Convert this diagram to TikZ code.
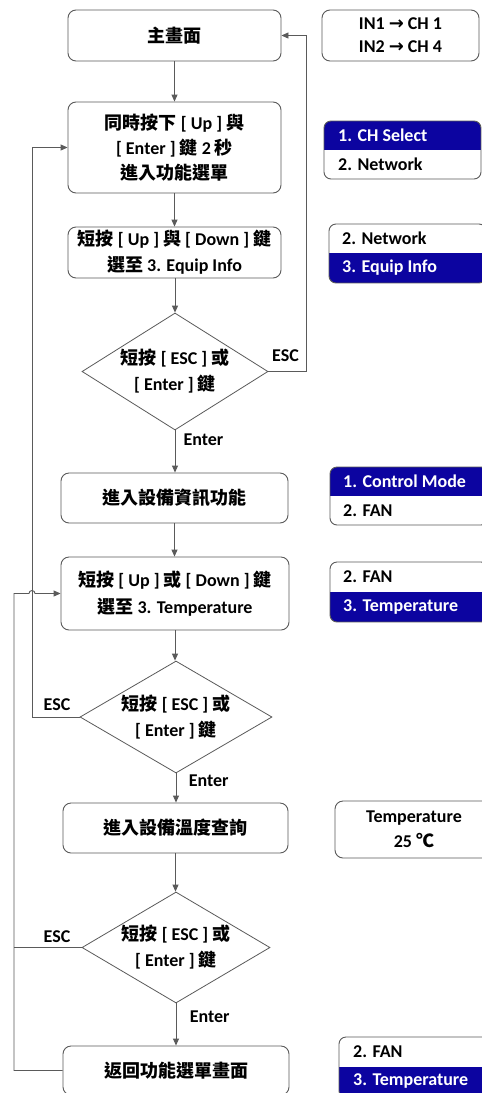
\documentclass[tikz,border=0pt]{standalone}
\usepackage{fontspec}
\setmainfont{Carlito}[UprightFont={* Bold}, BoldFont={* Bold}]
\newfontfamily\cjk{Noto Sans CJK TC}
\newfontfamily\symf{DejaVu Sans}[UprightFont={* Bold}, BoldFont={* Bold}]
\usetikzlibrary{shapes.geometric,arrows.meta}
\definecolor{menublue}{RGB}{12,4,160}
\definecolor{linegray}{RGB}{90,90,90}
\newcommand\zh[1]{{\cjk #1}}
\begin{document}
\begin{tikzpicture}[x=1pt,y=-1pt,
  font=\fontsize{18}{26}\selectfont\bfseries,
  box/.style={draw=linegray, line width=0.9pt, rounded corners=8pt, align=center, inner sep=0pt},
  dia/.style={draw=linegray, line width=0.8pt, diamond, inner sep=0pt},
  dtext/.style={align=center, inner sep=0pt},
  conn/.style={draw=linegray, line width=0.9pt},
  arr/.style={conn, -{Triangle[length=7pt,width=6pt]}},
  lbl/.style={inner sep=0pt},
  mtext/.style={anchor=west, inner sep=0pt},
  mframe/.style={draw=linegray, line width=0.9pt, rounded corners=7pt},
]
\path[fill=white, use as bounding box] (0,0) rectangle (482,1093);

% helper coordinates for loop lines
\coordinate (rx) at (306,0);
\coordinate (lx1) at (32,0);
\coordinate (lx2) at (14,0);

% main column
\node[box, minimum width=213pt, minimum height=51pt] (b1) at (174.5,35.5) {\zh{主畫面}};
\node[box, minimum width=213pt, minimum height=91pt, font=\fontsize{18}{25}\selectfont\bfseries] (b2) at (174.5,147.5)
  {\zh{同時按下} [ Up ] \zh{與}\\ {}[ Enter ] \zh{鍵} 2 \zh{秒}\\ \zh{進入功能選單}};
\node[box, minimum width=213pt, minimum height=51pt] (b3) at (174.5,252.5)
  {\zh{短按} [ Up ] \zh{與} [ Down ] \zh{鍵}\\ \zh{選至} 3. Equip Info};
\node[dia, minimum width=186pt, minimum height=117pt] (d1) at (175,371.5) {};
\node[dtext] (d1t) at (d1) {\zh{短按} [ ESC ] \zh{或}\\ {}[ Enter ] \zh{鍵}};
\node[box, minimum width=227pt, minimum height=50pt] (b4) at (174.5,498) {\zh{進入設備資訊功能}};
\node[box, minimum width=228pt, minimum height=73pt, font=\fontsize{18}{27}\selectfont\bfseries] (b5) at (175,593.5)
  {\zh{短按} [ Up ] \zh{或} [ Down ] \zh{鍵}\\ \zh{選至} 3. Temperature};
\node[dia, minimum width=192pt, minimum height=112pt] (d2) at (176,717) {};
\node[dtext] (d2t) at (d2) {\zh{短按} [ ESC ] \zh{或}\\ {}[ Enter ] \zh{鍵}};
\node[box, minimum width=225pt, minimum height=50pt] (b6) at (175.5,828) {\zh{進入設備溫度查詢}};
\node[dia, minimum width=188pt, minimum height=111pt] (d3) at (176,947.5) {};
\node[dtext] (d3t) at (d3) {\zh{短按} [ ESC ] \zh{或}\\ {}[ Enter ] \zh{鍵}};
\node[box, minimum width=226pt, minimum height=49pt] (b7) at (176,1070.5) {\zh{返回功能選單畫面}};

% vertical arrows
\draw[arr] (b1.south) -- (b1.south |- b2.north);
\draw[arr] (b2.south) -- (b2.south |- b3.north);
\draw[arr] (b3.south) -- (b3.south -| d1.north) -- (d1.north);
\draw[arr] (d1.south) -- (d1.south |- b4.north);
\draw[arr] (b4.south) -- (b4.south |- b5.north);
\draw[arr] (b5.south) -- (b5.south |- d2.north);
\draw[arr] (d2.south) -- (d2.south |- b6.north);
\draw[arr] (b6.south) -- (b6.south |- d3.north);
\draw[arr] (d3.south) -- (d3.south |- b7.north);

% loops
\draw[arr] (d1.east) -- (d1.east -| rx) -- (rx |- b1.east) -- (b1.east);
\draw[arr] (d2.west) -- (d2.west -| lx1) -- (lx1 |- b2.west) -- (b2.west);
\coordinate (hopL) at (29,593.5);
\draw[arr] (b7.west) -- (b7.west -| lx2) -- (lx2 |- b5.west) -- (hopL)
  arc[start angle=180, end angle=0, radius=3pt] -- (b5.west);
\draw[conn] (d3.west) -- (d3.west -| lx2);

% branch labels
\node[lbl] (e1) at (285.5,356) {ESC};
\node[lbl] (n1) at (203.5,440) {Enter};
\node[lbl] (e2) at (57,705) {ESC};
\node[lbl] (n2) at (208.7,781) {Enter};
\node[lbl] (e3) at (57,937) {ESC};
\node[lbl] (n3) at (209.7,1017) {Enter};

% right-hand screens
\node[box, minimum width=157pt, minimum height=51pt, font=\fontsize{18}{23}\selectfont\bfseries] (r1) at (400.5,35.5)
  {IN1 {\symf →} CH 1\\ IN2 {\symf →} CH 4};
\node[box, minimum width=158pt, minimum height=57pt, font=\fontsize{18}{25}\selectfont\bfseries] (r2) at (414,829.5)
  {Temperature\\ 25 \zh{℃}};

% menu 1
\begin{scope}
  \clip[rounded corners=7pt] (324,121) rectangle (481,179);
  \fill[menublue] (324,121) rectangle (481,150);
\end{scope}
\draw[mframe] (324,121) rectangle (481,179);
\node[mtext, text=white] (m1a) at (338,135.5) {1. CH Select};
\node[mtext] (m1b) at (338,164.5) {2. Network};

% menu 2
\begin{scope}
  \clip[rounded corners=7pt] (329,224) rectangle (486,283);
  \fill[menublue] (329,253) rectangle (486,283);
\end{scope}
\draw[mframe] (329,224) rectangle (486,283);
\node[mtext] (m2a) at (342,238.5) {2. Network};
\node[mtext, text=white] (m2b) at (342,268) {3. Equip Info};

% menu 3
\begin{scope}
  \clip[rounded corners=7pt] (330,467) rectangle (488,525);
  \fill[menublue] (330,467) rectangle (488,496);
\end{scope}
\draw[mframe] (330,467) rectangle (488,525);
\node[mtext, text=white] (m3a) at (343,481.5) {1. Control Mode};
\node[mtext] (m3b) at (343,510.5) {2. FAN};

% menu 4
\begin{scope}
  \clip[rounded corners=7pt] (330,562) rectangle (488,622);
  \fill[menublue] (330,592) rectangle (488,622);
\end{scope}
\draw[mframe] (330,562) rectangle (488,622);
\node[mtext] (m4a) at (343,577) {2. FAN};
\node[mtext, text=white] (m4b) at (343,607) {3. Temperature};

% menu 5
\begin{scope}
  \clip[rounded corners=7pt] (339,1037) rectangle (497,1098);
  \fill[menublue] (339,1067) rectangle (497,1098);
\end{scope}
\draw[mframe] (339,1037) rectangle (497,1098);
\node[mtext] (m5a) at (353,1052) {2. FAN};
\node[mtext, text=white] (m5b) at (353,1081) {3. Temperature};
\end{tikzpicture}
\end{document}
